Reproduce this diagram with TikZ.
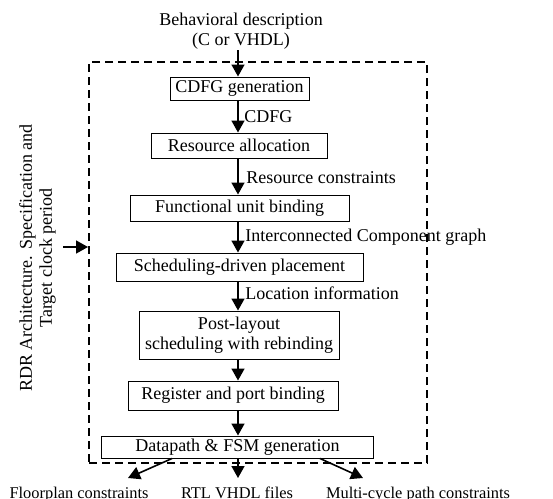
\documentclass[tikz,border=0pt]{standalone}
\usepackage{fontspec}
\setmainfont{Liberation Serif}
\usetikzlibrary{arrows.meta}

\begin{document}
\begin{tikzpicture}[x=0.5pt, y=-0.5pt, >={Triangle[length=6pt, width=6.5pt]},
    every node/.style={font=\fontsize{9}{10}\selectfont},
    stage/.style={draw, line width=0.5pt, inner sep=0pt, align=center},
    flow/.style={->, line width=0.8pt},
    tag/.style={anchor=base west, inner sep=0pt},
    outlabel/.style={anchor=base, inner sep=0pt, font=\fontsize{8.2}{10}\selectfont}]
    \useasboundingbox (0,0) rectangle (553,499);
    \coordinate (axis) at (238,0);

    % --- Dashed frame around the flow ---
    \node[draw, dash pattern=on 4pt off 2.5pt, line width=1pt, inner sep=0pt,
          minimum width=169pt, minimum height=200.5pt] (frame) at (258,262.5) {};

    % --- Input description ---
    \node[align=center, inner sep=0pt, anchor=north] (behav) at (241,13)
        {Behavioral description\\(C or VHDL)};

    % --- Flow stages ---
    \node[stage, minimum width=69.5pt, minimum height=11.5pt] (cdfg) at (239.5,88.5) {CDFG generation};
    \node[stage, minimum width=88pt, minimum height=12.5pt] (alloc) at (239,145.5) {Resource allocation};
    \node[stage, minimum width=109.5pt, minimum height=13pt] (fubind) at (239.5,208) {Functional unit binding};
    \node[stage, minimum width=123.5pt, minimum height=14pt] (place) at (239.5,267) {Scheduling-driven placement};
    \node[stage, minimum width=100pt, minimum height=24pt] (post) at (239,335) {Post-layout\\scheduling with rebinding};
    \node[stage, minimum width=105pt, minimum height=14.5pt] (regbind) at (233,395.5) {Register and port binding};
    \node[stage, minimum width=136pt, minimum height=11pt] (dp) at (237.5,447) {Datapath \& FSM generation};

    % --- Vertical connections ---
    \draw[flow] (behav.south -| axis) -- (cdfg.north -| axis);
    \draw[flow] (cdfg.south -| axis) -- (alloc.north -| axis);
    \draw[flow] (alloc.south -| axis) -- (fubind.north -| axis);
    \draw[flow] (fubind.south -| axis) -- (place.north -| axis);
    \draw[flow] (place.south -| axis) -- (post.north -| axis);
    \draw[flow] (post.south -| axis) -- (regbind.north -| axis);
    \draw[flow] (regbind.south -| axis) -- (dp.north -| axis);

    % --- Edge labels ---
    \node[tag] (lcdfg) at (244,122) {CDFG};
    \node[tag] (lres) at (246,183) {Resource constraints};
    \node[tag] (licg) at (245,241) {Interconnected Component graph};
    \node[tag] (lloc) at (245,299) {Location information};

    % --- Side input ---
    \node[rotate=90, align=center, inner sep=0pt] (spec) at (37.5,258)
        {RDR Architecture. Specification and\\Target clock period};
    \coordinate (specout) at (63,247);
    \draw[flow] (specout) -- (frame.west |- specout);

    % --- Outputs ---
    \node[outlabel] (fp) at (79,498) {Floorplan constraints};
    \node[outlabel] (rtl) at (237,498) {RTL VHDL files};
    \node[outlabel] (mc) at (418,498) {Multi-cycle path constraints};
    \coordinate (fptip) at (128,478);
    \coordinate (rtltip) at (238,478);
    \coordinate (mctip) at (363,478);
    \draw[flow] ([xshift=-32.75pt]dp.south) -- (fptip);
    \draw[flow] (dp.south -| axis) -- (rtltip);
    \draw[flow] ([xshift=41.25pt]dp.south) -- (mctip);
\end{tikzpicture}
\end{document}
